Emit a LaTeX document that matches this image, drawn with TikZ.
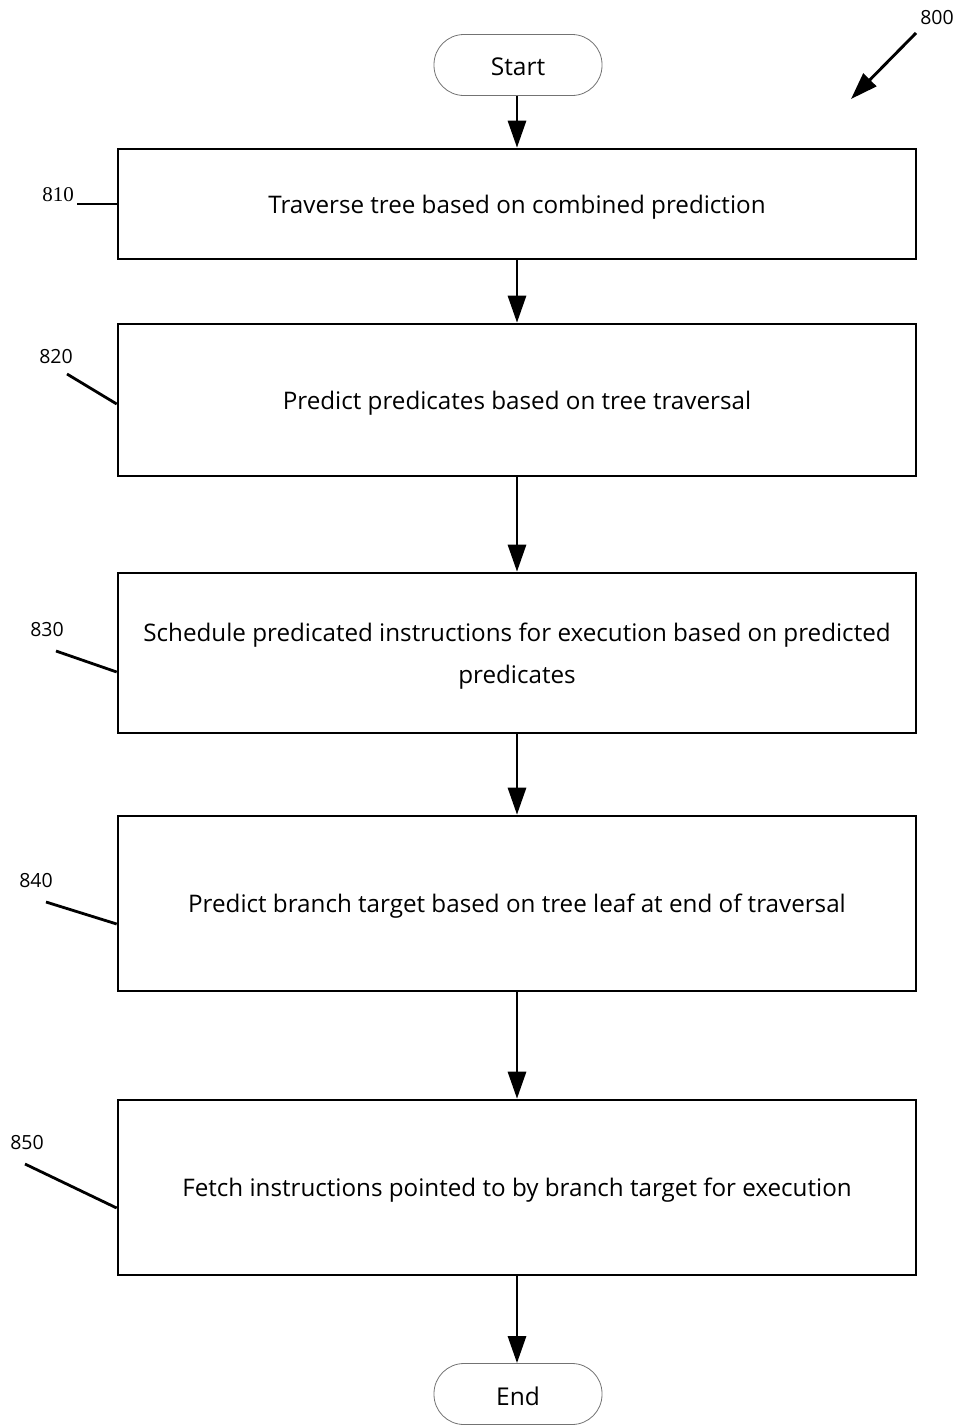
\documentclass[tikz,border=0pt]{standalone}
\usepackage{fontspec}
\setmainfont{Open Sans}
\newfontfamily\numserif{Liberation Serif}
\usetikzlibrary{arrows.meta}
\begin{document}
\begin{tikzpicture}[x=1pt,y=-1pt,
  stepbox/.style={draw, line width=2.6pt, minimum width=798pt, inner sep=0pt},
  steptext/.style={anchor=base, inner sep=0pt, font=\fontsize{24.2}{28}\selectfont},
  terminal/.style={draw=black!55, line width=0.8pt, minimum width=168pt,
    minimum height=61pt, rounded corners=30pt, inner sep=0pt},
  termtext/.style={anchor=base, inner sep=0pt, font=\fontsize{24.5}{28}\selectfont},
  flow/.style={line width=2.9pt, -{Triangle[length=27pt,width=18pt]}},
  leader/.style={line width=2.8pt},
  refnum/.style={font=\fontsize{19.5}{24}\selectfont, inner sep=0pt}]
\useasboundingbox (0,0) rectangle (962,1425);

% terminals
\node[terminal] (start) at (518,65) {};
\node[termtext] (startlbl) at ([yshift=-10pt]start.center) {Start};
\node[terminal] (end) at (518,1394) {};
\node[termtext] (endlbl) at ([yshift=-11pt]end.center) {End};

% process steps
\node[stepbox, minimum height=110pt] (b1) at (517,204) {};
\node[stepbox, minimum height=152pt] (b2) at (517,400) {};
\node[stepbox, minimum height=160pt] (b3) at (517,653) {};
\node[stepbox, minimum height=175pt] (b4) at (517,903.5) {};
\node[stepbox, minimum height=175pt] (b5) at (517,1187.5) {};

\node[steptext] (t1) at ([yshift=-9.3pt]b1.center) {Traverse tree based on combined prediction};
\node[steptext] (t2) at ([yshift=-9.3pt]b2.center) {Predict predicates based on tree traversal};
\node[steptext] (t3a) at ([yshift=11.3pt]b3.center) {Schedule predicated instructions for execution based on predicted};
\node[steptext] (t3b) at ([yshift=-30.3pt]b3.center) {predicates};
\node[steptext] (t4) at ([yshift=-9.3pt]b4.center) {Predict branch target based on tree leaf at end of traversal};
\node[steptext] (t5) at ([yshift=-9.3pt]b5.center) {Fetch instructions pointed to by branch target for execution};

% flow arrows
\draw[flow] (start.south -| b1.north) -- (b1.north);
\draw[flow] (b1) -- (b2);
\draw[flow] (b2) -- (b3);
\draw[flow] (b3) -- (b4);
\draw[flow] (b4) -- (b5);
\draw[flow] (b5.south) -- (b5.south |- end.north);

% figure number
\node[refnum] (n800) at (937,18) {800};
\coordinate (p800a) at (916,33);
\coordinate (p800b) at (851,99);
\draw[flow] (p800a) -- (p800b);

% reference numerals with leader lines
\node[refnum, font=\numserif\fontsize{21}{24}\selectfont] (n810) at (58,195) {810};
\coordinate (p810) at (77,204);
\draw[leader] (p810) -- (b1.west);

\node[refnum] (n820) at (56,357) {820};
\coordinate (p820) at (67,374);
\draw[leader] (p820) -- ([yshift=-4pt]b2.west);

\node[refnum] (n830) at (47,630) {830};
\coordinate (p830) at (56,651);
\draw[leader] (p830) -- ([yshift=-19pt]b3.west);

\node[refnum] (n840) at (36,881) {840};
\coordinate (p840) at (46,902);
\draw[leader] (p840) -- ([yshift=-20.5pt]b4.west);

\node[refnum] (n850) at (27,1143) {850};
\coordinate (p850) at (25,1164);
\draw[leader] (p850) -- ([yshift=-20.5pt]b5.west);
\end{tikzpicture}
\end{document}
